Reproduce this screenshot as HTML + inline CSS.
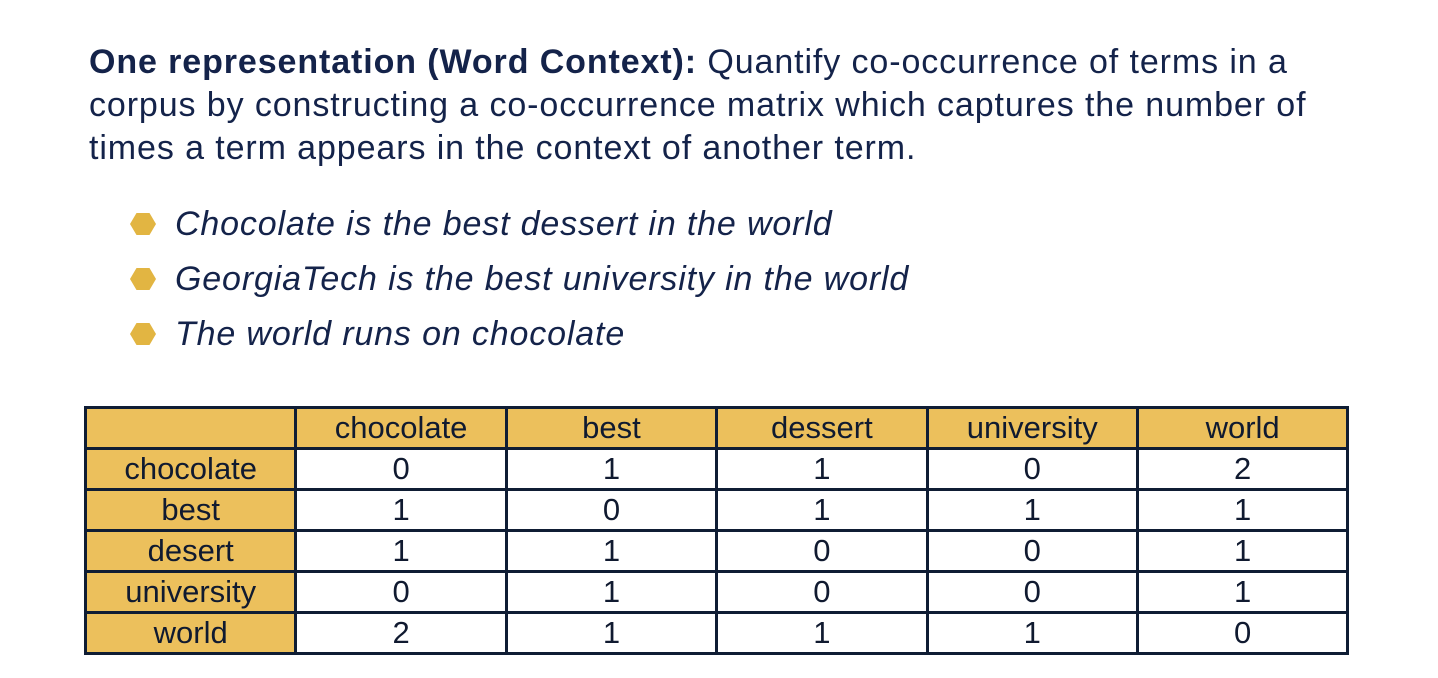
<!DOCTYPE html>
<html><head><meta charset="utf-8"><style>
body{margin:0;width:1438px;height:678px;background:#fff;position:relative;overflow:hidden;font-family:"Liberation Sans",Arial,sans-serif;color:#14234a}
.ln{position:absolute;left:89px;font-size:34px;letter-spacing:0.9px;line-height:43px;white-space:nowrap}
.bl{position:absolute;left:175px;font-size:34px;letter-spacing:0.85px;line-height:43px;font-style:italic;white-space:nowrap}
.hex{position:absolute;left:130px;width:26px;height:22px;background:#e2b542;clip-path:polygon(25% 0,75% 0,100% 50%,75% 100%,25% 100%,0 50%)}
table{position:absolute;left:84px;top:406px;border-collapse:collapse;table-layout:fixed}
td{border:3px solid #0f1d34;width:207.4px;height:38px;padding:0;text-align:center;font-size:31px;line-height:38px;color:#101a30;background:#fff}
td.h{background:#ecc05c}
</style></head><body>
<div class="ln" style="top:41px"><b>One representation (Word Context):</b> Quantify co-occurrence of terms in a</div>
<div class="ln" style="top:84px">corpus by constructing a co-occurrence matrix which captures the number of</div>
<div class="ln" style="top:127px">times a term appears in the context of another term.</div>
<div class="hex" style="top:213px"></div>
<div class="bl" style="top:203px">Chocolate is the best dessert in the world</div>
<div class="hex" style="top:268px"></div>
<div class="bl" style="top:258px">GeorgiaTech is the best university in the world</div>
<div class="hex" style="top:323px"></div>
<div class="bl" style="top:313px">The world runs on chocolate</div>
<table id="tbl"></table>
<script>
const colTerms=["chocolate","best","dessert","university","world"];
const rowTerms=["chocolate","best","desert","university","world"];
const counts=[[0,1,1,0,2],[1,0,1,1,1],[1,1,0,0,1],[0,1,0,0,1],[2,1,1,1,0]];
const t=document.getElementById('tbl');
let tr=document.createElement('tr');


let c=document.createElement('td');c.className='h';


tr.appendChild(c);
colTerms.forEach(w=>{const d=document.createElement('td');d.className='h';d.textContent=w;


tr.appendChild(d);});
t.appendChild(tr);
rowTerms.forEach((w,i)=>{const r=document.createElement('tr');


const h=document.createElement('td');h.className='h';h.textContent=w;


r.appendChild(h);
counts[i].forEach(v=>{const d=document.createElement('td');d.textContent=v;


r.appendChild(d);});
t.appendChild(r);});
</script>
</body></html>
